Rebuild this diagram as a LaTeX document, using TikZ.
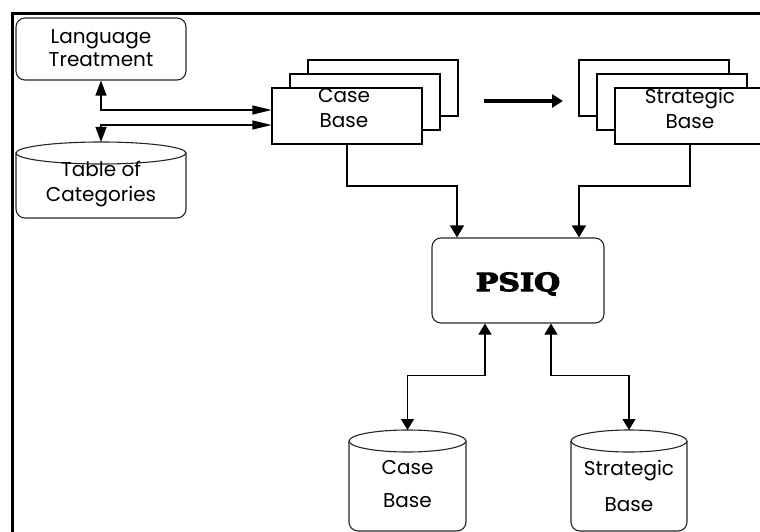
\documentclass[tikz,border=0pt]{standalone}
\usepackage{fontspec}
\setmainfont{Poppins}
\newfontfamily\psiqfont[BoldFeatures={FakeBold=4}]{DejaVu Serif}
\usetikzlibrary{arrows.meta}

% drum-shaped store: #1 name of the top point, #2 left x, #3 right x,
% #4 centre y of the top ellipse, #5 bottom y
\newcommand{\drum}[5]{%
  \draw[shapeline, rounded corners=9pt] (#2,#4) -- (#2,#5) -- (#3,#5) -- (#3,#4);
  \pgfmathsetmacro{\drumrx}{(#3-#2)/2}
  \pgfmathsetmacro{\drumcx}{(#3+#2)/2}
  \draw[shapeline, fill=white] (\drumcx,#4) ellipse [x radius=\drumrx pt, y radius=11pt];
  \coordinate (#1) at (\drumcx,#4-11);
}

\tikzset{
  shapeline/.style={draw=black!85, line width=1.1pt},
  roundbox/.style={shapeline, rounded corners=9pt, inner sep=0pt},
  sheet/.style={draw=black, line width=1.1pt, fill=white, minimum width=150pt, minimum height=56pt, inner sep=0pt},
  label/.style={font=\fontsize{20}{23}\selectfont, align=center, inner sep=0pt},
  wire/.style={draw=black, line width=1.1pt},
  tip/.style={-{Triangle[length=12pt,width=14pt]}},
  tips/.style={{Triangle[length=11pt,width=13pt]}-{Triangle[length=11pt,width=13pt]}},
  sidetips/.style={{Triangle[length=15pt,width=11pt]}-{Triangle[length=19pt,width=9pt]}},
}

\begin{document}
\begin{tikzpicture}[x=1pt,y=-1pt]
\useasboundingbox (0,0) rectangle (760,532);

% outer frame
\draw[line width=3pt] (12.5,540) -- (12.5,14) -- (770,14);

% language treatment module
\node[roundbox, minimum width=170pt, minimum height=62pt] (lt) at (101,49) {};
\node[label] (lttext) at (101,48) {Language\\Treatment};

% table of categories
\drum{tctop}{16}{186}{153}{218}
\node[label, font=\fontsize{20}{25}\selectfont] (tctext) at (101,184) {Table of\\Categories};

% stacked case base sheets
\node[sheet] (cbc) at (383,88) {};
\node[sheet] (cbb) at (365,102) {};
\node[sheet] (cbf) at (347,116) {};
\node[label, font=\fontsize{20}{25}\selectfont] (cbtext) at (344,108) {Case\\Base};

% stacked strategic base sheets
\node[sheet] (sbc) at (654,88) {};
\node[sheet] (sbb) at (672,102) {};
\node[sheet] (sbf) at (690,116) {};
\node[label, font=\fontsize{20}{25}\selectfont] (sbtext) at (690,108) {Strategic\\Base};

% conversion arrow between the two stacks
\coordinate (convL) at (484,101);
\coordinate (convR) at (563,101);
\draw[line width=4pt, -{Triangle[length=11pt,width=13pt]}] (convL) -- (convR);

% central PSIQ module
\node[roundbox, minimum width=172pt, minimum height=85pt] (psiq) at (518,280.5) {};
\node[font=\psiqfont\bfseries\fontsize{25}{25}\selectfont, inner sep=0pt, xscale=1.2] (psiqtext) at (518,284) {PSIQ};

% case and strategic base stores
\drum{cstop}{349}{466}{441}{531}
\node[label, font=\fontsize{20}{33}\selectfont] (cstext) at (407.5,484) {Case\\Base};
\drum{sstop}{571}{687}{441}{531}
\node[label, font=\fontsize{20}{36}\selectfont] (sstext) at (629,486) {Strategic\\Base};

% links to the case base stack
\draw[wire, sidetips] (lt.south) |- ([yshift=6pt]cbf.west);
\draw[wire, sidetips] (tctop) |- ([yshift=-9pt]cbf.west);

% stacks feed PSIQ
\draw[wire, tip] (cbf.south) -- (cbf.south |- 0,186) -| ([xshift=-61pt]psiq.north);
\draw[wire, tip] (sbf.south) -- (sbf.south |- 0,186) -| ([xshift=61pt]psiq.north);

% PSIQ exchanges with the stores
\draw[wire, tips] ([xshift=-33pt]psiq.south) -- ++(0,52) -| (cstop);
\draw[wire, tips] ([xshift=33pt]psiq.south) -- ++(0,52) -| (sstop);
\end{tikzpicture}
\end{document}
